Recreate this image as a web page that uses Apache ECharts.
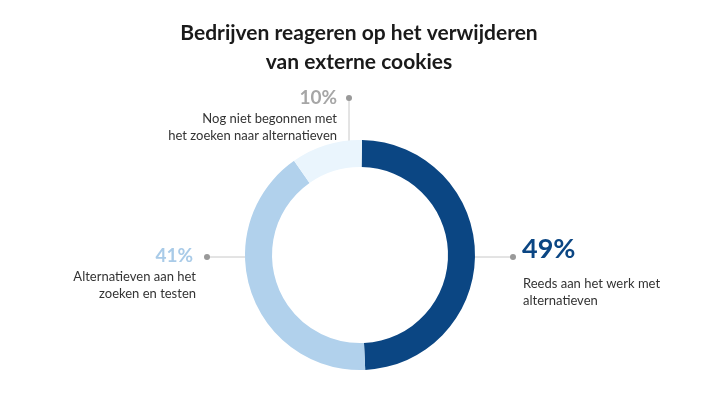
<!DOCTYPE html>
<html><head><meta charset="utf-8">
<script src="https://cdn.jsdelivr.net/npm/echarts@6/dist/echarts.min.js"></script>
<style>html,body{margin:0;background:#fff}#c{width:718px;height:400px}</style>
</head><body><div id="c"></div>
<script>
var names = ['Reeds aan het werk met\nalternatieven', 'Alternatieven aan het\nzoeken en testen', 'Nog niet begonnen met\nhet zoeken naar alternatieven'];
var values = [49, 41, 10];
var colors = ['#0b4683', '#b1d1ec', '#eaf5fd'];
var pctColors = ['#0b4683', '#a9cbe8', '#a6a6a6'];

var chart = echarts.init(document.getElementById('c'));
var font = 'Lato, "Open Sans", sans-serif';
var lineStyle = { stroke: '#c8c8c8', lineWidth: 1 };
var dot = function (x, y) { return { type: 'circle', shape: { cx: x, cy: y, r: 3 }, style: { fill: '#999' } }; };
var txt = function (x, y, t, o) {
    return { type: 'text', x: x, y: y, style: Object.assign({ text: t, font: '13px ' + font, fill: '#333', lineHeight: 17, verticalAlign: 'top' }, o) };
};
chart.setOption({
    title: {
        text: 'Bedrijven reageren op het verwijderen\nvan externe cookies',
        left: 'center', top: 14,
        textStyle: { fontFamily: font, fontSize: 21, fontWeight: 'bold', color: '#1a1a1a', lineHeight: 29 }
    },
    graphic: [
        { type: 'line', shape: { x1: 475, y1: 257, x2: 513, y2: 257 }, style: lineStyle },
        dot(513, 257),
        txt(522, 241, values[0] + '%', { font: 'bold 27px ' + font, fill: pctColors[0] }),
        txt(523, 275, names[0]),
        { type: 'line', shape: { x1: 207, y1: 257, x2: 246, y2: 257 }, style: lineStyle },
        dot(207, 257),
        txt(193, 247, values[1] + '%', { font: 'bold 19px ' + font, fill: pctColors[1], align: 'right' }),
        txt(196, 268, names[1], { align: 'right' }),
        { type: 'line', shape: { x1: 349, y1: 98, x2: 349, y2: 144 }, style: lineStyle },
        dot(349, 98),
        txt(337, 89, values[2] + '%', { font: 'bold 19px ' + font, fill: pctColors[2], align: 'right' }),
        txt(337, 110, names[2], { align: 'right' })
    ],
    series: [{
        type: 'pie',
        center: [360, 255],
        radius: [88, 115],
        startAngle: 89,
        clockwise: true,
        silent: true,
        label: { show: false },
        labelLine: { show: false },
        data: values.map(function (v, i) { return { value: v, name: names[i], itemStyle: { color: colors[i] } }; })
    }]
});
</script></body></html>
